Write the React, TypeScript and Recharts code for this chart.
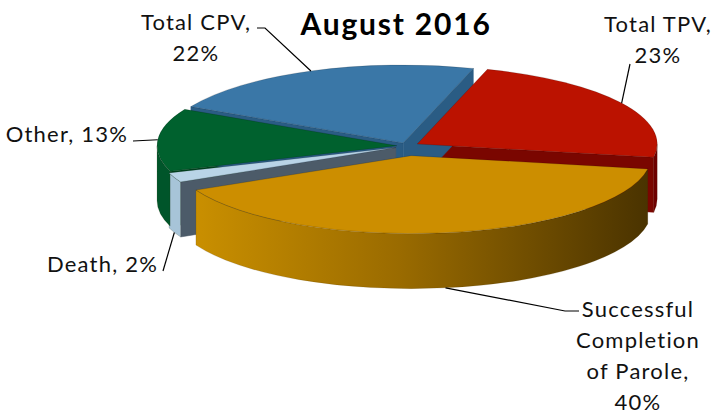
import React from 'react';
import { PieChart, Pie } from 'recharts';

// ---- data ----
const categories = ['Total TPV', 'Successful Completion of Parole', 'Death', 'Other', 'Total CPV'];
const shares = [23, 40, 2, 13, 22];
const chartTitle = 'August 2016';

// ---- styles / layout ----
const topColors = ['#BB1200', '#CC8E00', '#B9D4E7', '#00612E', '#3A77A7'];
const outerWallColors = ['#6E0000', 'url(#gradSuccess)', '#A7C4D8', '#00552A', '#2C5F88'];
const radialWallColors = ['#7A0600', '#7A5500', '#4C5B69', '#00441F', '#2A5C84'];
const explode = [12, 30, 12, 10, 10];
const FONT = 'Lato, "Open Sans", sans-serif';
const CX = 407;
const CY = 146;
const RX = 240;
const K = 0.325; // vertical squash
const DEPTH = 55;
const START = 73;
const DEATH = 2;

// label layout: text anchor position, alignment, and leader elbow points
const labelLayout = [
  { x: 658, y: 32, anchor: 'middle', elbows: [[630, 64]] },
  { x: 638, y: 317, anchor: 'middle', elbows: [[565, 311], [579, 311]] },
  { x: 158, y: 272, anchor: 'end', elbows: [[163, 271]] },
  { x: 128, y: 142, anchor: 'end', elbows: [[133, 141]] },
  { x: 196, y: 30, anchor: 'middle', elbows: [[265, 28], [257, 28]] },
];
const LINE_H = 31;

const data = categories.map((name, i) => ({ name, value: shares[i] }));

const wrap = (text: string, max: number) => {
  const words = text.split(' ');
  const lines: string[] = [];
  let cur = '';
  for (const w of words) {
    const t = cur ? cur + ' ' + w : w;
    if (t.length > max && cur) {
      lines.push(cur);
      cur = w;
    } else cur = t;
  }
  if (cur) lines.push(cur);
  return lines;
};

const rad = (a: number) => (a * Math.PI) / 180;

function geom(p: any) {
  const cx = p.cx, cy = p.cy, r = p.outerRadius;
  const ry = r * K;
  const idx = p.index ?? categories.indexOf(p.name ?? p.payload?.name);
  const mid = (p.startAngle + p.endAngle) / 2;
  const d = explode[idx] || 0;
  const ox = d * Math.cos(rad(mid));
  const oy = -d * K * Math.sin(rad(mid));
  const pt = (a: number, dy = 0) => [cx + ox + r * Math.cos(rad(a)), cy + oy - ry * Math.sin(rad(a)) + dy];
  return { cx: cx + ox, cy: cy + oy, r, ry, idx, mid, pt, s: p.startAngle, e: p.endAngle };
}

const f = (v: number[]) => `${v[0].toFixed(2)},${v[1].toFixed(2)}`;

const radialLayer = (onlyDeath: boolean) => (p: any) => {
  const g = geom(p);
  if ((g.idx === DEATH) !== onlyDeath) return <g key={`rw${g.idx}`} />;
  const parts: any[] = [];
  const c = [g.cx, g.cy];
  const cd = [g.cx, g.cy + DEPTH];
  if (Math.cos(rad(g.s)) < 0) {
    const a = g.pt(g.s), b = g.pt(g.s, DEPTH);
    parts.push(<path key="s" d={`M${f(c)}L${f(a)}L${f(b)}L${f(cd)}Z`} fill={radialWallColors[g.idx]} stroke={radialWallColors[g.idx]} strokeWidth={0.5} />);
  }
  if (Math.cos(rad(g.e)) > 0) {
    const a = g.pt(g.e), b = g.pt(g.e, DEPTH);
    parts.push(<path key="e" d={`M${f(c)}L${f(a)}L${f(b)}L${f(cd)}Z`} fill={radialWallColors[g.idx]} stroke={radialWallColors[g.idx]} strokeWidth={0.5} />);
  }
  return <g key={`rw${g.idx}`}>{parts}</g>;
};

const outerLayer = (which: 'front' | 'rest') => (p: any) => {
  const g = geom(p);
  const isFront = g.idx === 1;
  if ((which === 'front') !== isFront) return <g key={`ow${g.idx}`} />;
  const parts: any[] = [];
  for (let k = -2; k <= 1; k++) {
    const lo = Math.max(g.e, -180 + 360 * k);
    const hi = Math.min(g.s, 360 * k);
    if (lo < hi) {
      const a = g.pt(hi), b = g.pt(lo), bd = g.pt(lo, DEPTH), ad = g.pt(hi, DEPTH);
      const large = hi - lo > 180 ? 1 : 0;
      parts.push(
        <path
          key={k}
          d={`M${f(a)}A${g.r},${g.ry} 0 ${large} 1 ${f(b)}L${f(bd)}A${g.r},${g.ry} 0 ${large} 0 ${f(ad)}Z`}
          fill={outerWallColors[g.idx]}
          stroke="#3a2a00"
          strokeOpacity={0.25}
          strokeWidth={0.6}
        />
      );
    }
  }
  return (
    <g key={`ow${g.idx}`}>
      {isFront && (
        <defs>
          <linearGradient id="gradSuccess" x1="0" y1="0" x2="1" y2="0">
            <stop offset="0%" stopColor="#C98F00" />
            <stop offset="45%" stopColor="#9A6B00" />
            <stop offset="100%" stopColor="#4A3300" />
          </linearGradient>
        </defs>
      )}
      {parts}
    </g>
  );
};

const topLayer = (p: any) => {
  const g = geom(p);
  const a = g.pt(g.s), b = g.pt(g.e);
  const large = g.s - g.e > 180 ? 1 : 0;
  return (
    <path
      key={`t${g.idx}`}
      d={`M${f([g.cx, g.cy])}L${f(a)}A${g.r},${g.ry} 0 ${large} 1 ${f(b)}Z`}
      fill={topColors[g.idx]}
      stroke="#000"
      strokeOpacity={0.25}
      strokeWidth={0.6}
    />
  );
};

const textLayer = (p: any) => {
  const g = geom(p);
  const L = labelLayout[g.idx];
  const midUp = Math.sin(rad(g.mid)) < 0;
  const rim = g.pt(g.mid, midUp ? DEPTH : 0);
  const pts = [rim, ...L.elbows];
  const lines = wrap(`${categories[g.idx]}, ${shares[g.idx]}%`, 10);
  return (
    <g key={`lbl${g.idx}`}>
      {g.idx === 0 && (
        <text x={396} y={35} textAnchor="middle" fontFamily={FONT} fontWeight={700} fontSize={30} letterSpacing={1.8} fill="#000">
          {chartTitle}
        </text>
      )}
      <polyline points={pts.map(f).join(' ')} fill="none" stroke="#000" strokeWidth={1.2} />
      {lines.map((ln, i) => (
        <text key={i} x={L.x} y={L.y + i * LINE_H} textAnchor={L.anchor as any} fontFamily={FONT} fontSize={22} letterSpacing={1.2} fill="#111">
          {ln}
        </text>
      ))}
    </g>
  );
};

const pieCommon = {
  data,
  dataKey: 'value',
  nameKey: 'name',
  cx: CX,
  cy: CY,
  innerRadius: 0,
  outerRadius: RX,
  startAngle: START,
  endAngle: START - 360,
  fill: 'none',
  stroke: 'none',
  labelLine: false,
  isAnimationActive: false,
} as any;

export default function App() {
  return (
    <div style={{ position: 'absolute', left: 0, top: 0, width: 714, height: 418, background: '#fff' }}>
      <PieChart width={714} height={418} margin={{ top: 0, right: 0, bottom: 0, left: 0 }}>
        <Pie {...pieCommon} label={radialLayer(false)} />
        <Pie {...pieCommon} label={radialLayer(true)} />
        <Pie {...pieCommon} label={outerLayer('rest')} />
        <Pie {...pieCommon} label={outerLayer('front')} />
        <Pie {...pieCommon} label={topLayer} />
        <Pie {...pieCommon} label={textLayer} />
      </PieChart>
    </div>
  );
}
